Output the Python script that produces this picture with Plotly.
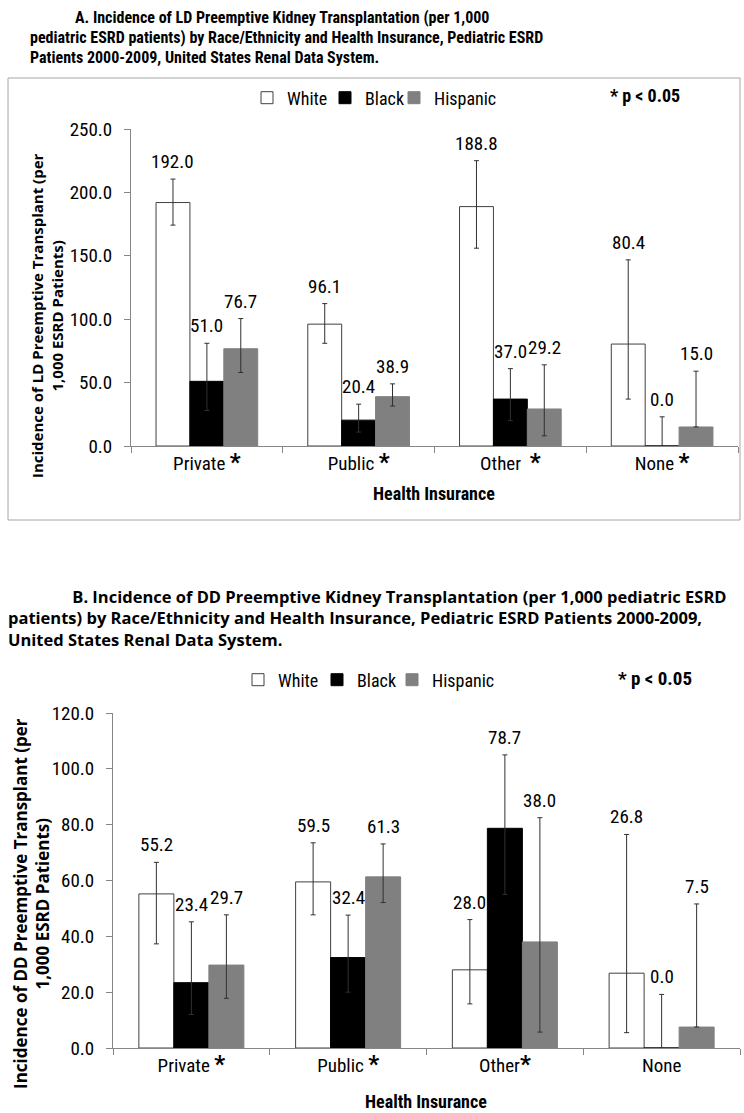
import plotly.graph_objects as go

categories = ["Private", "Public", "Other", "None"]
STAR = "<span style='font-size:24px'><b>*</b></span>"
tick_a = ["Private " + STAR, "Public " + STAR, "Other  " + STAR, "None " + STAR]
tick_b = ["Private " + STAR, "Public " + STAR, "Other" + STAR, "None"]
series = ["White", "Black", "Hispanic"]

# Panel A (LD)
a_white = [192.0, 96.1, 188.8, 80.4]
a_black = [51.0, 20.4, 37.0, 0.0]
a_hisp = [76.7, 38.9, 29.2, 15.0]
a_white_hi = [210.5, 112.3, 225.0, 146.8]
a_white_lo = [174.2, 81.0, 156.0, 37.0]
a_black_hi = [81.0, 33.0, 61.0, 23.0]
a_black_lo = [28.0, 11.0, 20.0, 0.0]
a_hisp_hi = [100.5, 49.0, 64.0, 59.0]
a_hisp_lo = [58.0, 31.5, 8.0, 15.0]

# Panel B (DD)
b_white = [55.2, 59.5, 28.0, 26.8]
b_black = [23.4, 32.4, 78.7, 0.0]
b_hisp = [29.7, 61.3, 38.0, 7.5]
b_white_hi = [66.5, 73.5, 46.0, 76.5]
b_white_lo = [37.3, 47.7, 15.8, 5.5]
b_black_hi = [45.2, 47.6, 105.0, 19.2]
b_black_lo = [12.0, 20.0, 55.0, 0.0]
b_hisp_hi = [47.7, 73.1, 82.5, 51.6]
b_hisp_lo = [17.8, 52.1, 5.7, 7.5]

colors = ["#ffffff", "#000000", "#808080"]
lines = ["#404040", "#000000", "#808080"]

NARROW = "Liberation Sans Narrow, Arial Narrow, Roboto Condensed, sans-serif"
YT = "Open Sans, DejaVu Sans, sans-serif"

BARGAP = 0.33

H = 1113.0
W = 744.0
def py(p):
    return 1 - p / H
def px(p):
    return p / W

fig = go.Figure()

# one legend per series so each entry can sit where the reference has it
legend_pos = {
    "legend": (247, 98), "legend2": (325, 98), "legend3": (394, 98),
    "legend4": (238, 680), "legend5": (317, 680), "legend6": (392, 680),
}
panels = [
    ("x", "y", ["legend", "legend2", "legend3"], [a_white, a_black, a_hisp],
     [a_white_hi, a_black_hi, a_hisp_hi], [a_white_lo, a_black_lo, a_hisp_lo]),
    ("x2", "y2", ["legend4", "legend5", "legend6"], [b_white, b_black, b_hisp],
     [b_white_hi, b_black_hi, b_hisp_hi], [b_white_lo, b_black_lo, b_hisp_lo]),
]

annotations = []
bw = (1 - BARGAP) / 3
for xa, ya, lgs, vals, his, los in panels:
    for s, name in enumerate(series):
        v = vals[s]
        plus = [h - x for h, x in zip(his[s], v)]
        minus = [x - l for l, x in zip(los[s], v)]
        fig.add_trace(go.Bar(
            x=categories, y=v, name=name, xaxis=xa, yaxis=ya, legend=lgs[s],
            marker=dict(color=colors[s], line=dict(color=lines[s], width=1)),
            error_y=dict(type="data", array=plus, arrayminus=minus, symmetric=False,
                         color="#303030", thickness=1, width=2.5),
        ))
        for i in range(len(categories)):
            annotations.append(dict(
                x=i + (s - 1) * bw, y=his[s][i], xref=xa, yref=ya,
                text=f"{v[i]:.1f}", showarrow=False, xanchor="center", yanchor="bottom", yshift=4,
                font=dict(family=NARROW, size=19, color="#000"),
            ))

# titles
title_a = ["A. Incidence of LD Preemptive Kidney Transplantation (per 1,000",
           "pediatric ESRD patients) by Race/Ethnicity and Health Insurance, Pediatric ESRD",
           "Patients 2000-2009, United States Renal Data System."]
title_b = ["B. Incidence of DD Preemptive Kidney Transplantation (per 1,000 pediatric ESRD",
           "patients) by Race/Ethnicity and Health Insurance, Pediatric ESRD Patients 2000-2009,",
           "United States Renal Data System."]
for t, xl, yc in zip(title_a, [73, 28, 28], [18, 37, 57]):
    annotations.append(dict(x=px(xl), y=py(yc), xref="paper", yref="paper", text=f"<b>{t}</b>",
                            showarrow=False, xanchor="left", yanchor="middle",
                            font=dict(family=NARROW, size=16, color="#000")))
annotations.append(dict(x=px(6), y=py(618), xref="paper", yref="paper",
                        text="<b>" + "&nbsp;" * 15 + "<br>".join(title_b) + "</b>",
                        showarrow=False, xanchor="left", yanchor="middle", align="left",
                        font=dict(family=YT, size=16.5, color="#000")))

# p-value notes
annotations.append(dict(x=px(645), y=py(96), xref="paper", yref="paper", text="<b>* p < 0.05</b>",
                        showarrow=False, xanchor="center", yanchor="middle",
                        font=dict(family=NARROW, size=18, color="#000")))
annotations.append(dict(x=px(655), y=py(678), xref="paper", yref="paper", text="<b>* p < 0.05</b>",
                        showarrow=False, xanchor="center", yanchor="middle",
                        font=dict(family=NARROW, size=19, color="#000")))

# axis titles
annotations.append(dict(x=px(47), y=py(316), xref="paper", yref="paper",
                        text="<b>Incidence of LD Preemptive Transplant (per<br>1,000 ESRD Patients)</b>",
                        showarrow=False, textangle=-90, xanchor="center", yanchor="middle",
                        font=dict(family=YT, size=15, color="#000")))
annotations.append(dict(x=px(32), y=py(904), xref="paper", yref="paper",
                        text="<b>Incidence of DD Preemptive Transplant (per<br>1,000 ESRD Patients)</b>",
                        showarrow=False, textangle=-90, xanchor="center", yanchor="middle",
                        font=dict(family=YT, size=17, color="#000")))
annotations.append(dict(x=px(434), y=py(494), xref="paper", yref="paper", text="<b>Health Insurance</b>",
                        showarrow=False, xanchor="center", yanchor="middle",
                        font=dict(family=NARROW, size=18, color="#000")))
annotations.append(dict(x=px(426), y=py(1101), xref="paper", yref="paper", text="<b>Health Insurance</b>",
                        showarrow=False, xanchor="center", yanchor="middle",
                        font=dict(family=NARROW, size=18, color="#000")))

axis_common = dict(showline=True, linecolor="#868686", linewidth=1, showgrid=False, zeroline=False,
                   ticks="outside", tickcolor="#868686", ticklen=6, automargin=False,
                   tickfont=dict(family=NARROW, size=19, color="#000"))

legends = {}
for key, (lx, ly) in legend_pos.items():
    legends[key] = dict(orientation="h", x=px(lx), y=py(ly), xanchor="left", yanchor="middle",
                        font=dict(family=NARROW, size=18, color="#000"), bgcolor="rgba(0,0,0,0)",
                        itemwidth=30)

fig.update_layout(
    width=744, height=1113,
    margin=dict(l=0, r=0, t=0, b=0, pad=0, autoexpand=False),
    paper_bgcolor="white", plot_bgcolor="white",
    barmode="group", bargap=BARGAP, bargroupgap=0,
    showlegend=True,
    xaxis=dict(domain=[px(131), px(738)], anchor="y", tickvals=categories, ticktext=tick_a,
               tickson="boundaries", **axis_common),
    yaxis=dict(domain=[py(446), py(129)], anchor="x", range=[0, 250], dtick=50, tickformat=".1f",
               ticklabelstandoff=8, **axis_common),
    xaxis2=dict(domain=[px(113), px(740)], anchor="y2", tickvals=categories, ticktext=tick_b,
                tickson="boundaries", **axis_common),
    yaxis2=dict(domain=[py(1048), py(713)], anchor="x2", range=[0, 120], dtick=20, tickformat=".1f",
                ticklabelstandoff=8, **axis_common),
    annotations=annotations,
    shapes=[dict(type="rect", xref="paper", yref="paper", x0=px(8), x1=px(740), y0=py(520), y1=py(78),
                 line=dict(color="#a6a6a6", width=1), fillcolor="rgba(0,0,0,0)", layer="below")],
    **legends,
)

fig.write_html("out.html", config={"displayModeBar": False},
               post_script="document.body.style.margin='0';document.body.style.overflow='hidden';")
